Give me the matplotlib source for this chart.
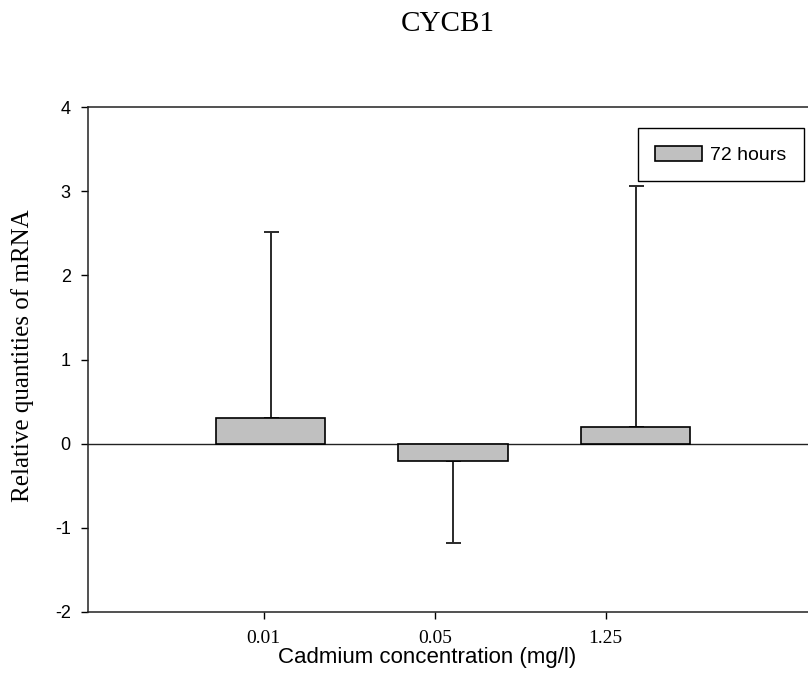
import numpy as np
import matplotlib
matplotlib.use("Agg")
import matplotlib.pyplot as plt

# CYCB1 relative mRNA, 72 h exposure
concLabels = ["0.01", "0.05", "1.25"]
meanVals = [0.31, -0.20, 0.20]
errVals = [2.20, 0.98, 2.86]
seriesName = "72 hours"

sans = "Liberation Sans"
serif = "Liberation Serif"

fig = plt.figure(figsize=(8.08, 6.73), dpi=100)
ax = fig.add_axes([88/808, 61/673, 720/808, 505/673])

xPos = np.arange(len(meanVals))
means = np.array(meanVals)
errs = np.array(errVals)
# one sided error bars: away from zero only
lower = np.where(means < 0, errs, 0.0)
upper = np.where(means >= 0, errs, 0.0)

ax.axhline(0, color="#222222", lw=1.0, zorder=1)
ax.errorbar(xPos, means, yerr=[lower, upper], fmt="none", ecolor="#2a2a2a",
            elinewidth=1.4, capsize=5.4, capthick=1.4, zorder=2)
ax.bar(xPos, means, width=0.6, color="#c0c0c0", edgecolor="black",
       linewidth=1.2, label=seriesName, zorder=3)

ax.set_xlim(-1, 2.945)
ax.set_ylim(-2, 4)
ax.set_yticks(np.arange(-2, 5, 1))
ax.set_yticklabels([str(v) for v in range(-2, 5)], fontfamily=sans, fontsize=13)
ax.set_xticks(xPos * 0.937 - 0.037)
ax.set_xticklabels(concLabels, fontfamily=serif, fontsize=14)
ax.tick_params(axis="y", direction="out", length=5.4, width=1, pad=7)
ax.tick_params(axis="x", direction="out", length=5, width=1, pad=8)

ax.spines["right"].set_visible(False)
for side in ["left", "bottom", "top"]:
    ax.spines[side].set_linewidth(1.1)
    ax.spines[side].set_color("#222222")

ax.set_xlabel("Cadmium concentration (mg/l)", fontfamily=sans, fontsize=16)
ax.xaxis.set_label_coords(0.471, -0.069)
ax.set_ylabel("Relative quantities of mRNA", fontfamily=serif, fontsize=18)
ax.yaxis.set_label_coords(-0.075, 0.507)
ax.set_title("CYCB1", fontfamily=serif, fontsize=21, pad=55)

leg = ax.legend(loc="upper right", bbox_to_anchor=(0.994, 0.958),
                borderaxespad=0, prop={"family": sans, "size": 14},
                fancybox=False, edgecolor="black", framealpha=1,
                handlelength=2.4, handleheight=0.8, borderpad=0.9,
                handletextpad=0.4)
leg.get_frame().set_linewidth(1.0)

fig.savefig("out.png", dpi=100)
